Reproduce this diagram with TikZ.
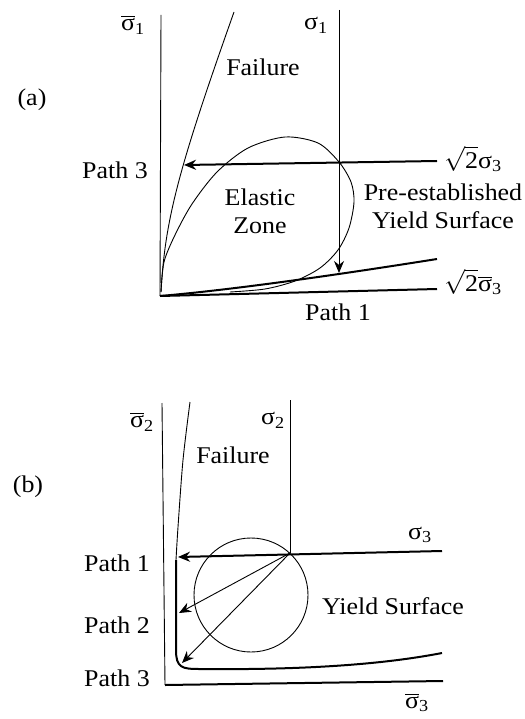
\documentclass[tikz,border=0pt]{standalone}
\usepackage{fontspec}
\setmainfont{Liberation Serif}[FakeStretch=1.08]
\usetikzlibrary{arrows.meta}

\newcommand\sgm[1]{σ\textsubscript{#1}}
\newcommand\sgmbar[1]{$\overline{\hbox{σ}}$\textsubscript{#1}}
\newcommand\rtwo{$\sqrt{\hbox{2}}$}

\begin{document}
\begin{tikzpicture}[
  x=1pt, y=-1pt,
  font=\fontsize{24}{28}\selectfont,
  >={Stealth[length=12pt,width=10pt]},
  txt/.style={inner sep=0pt, align=center},
  fine/.style={line width=0.9pt},
  heavy/.style={line width=2pt},
  patharrow/.style={->, line width=0.9pt},
  heavyarrow/.style={->, line width=2pt}
]
\useasboundingbox (0,0) rectangle (524,719);

% ---------- (a) ----------
\coordinate (oa) at (160,296);
\coordinate (axtopa) at (161,15);
\coordinate (axenda) at (437,289);
\coordinate (sa) at (339,162);
\coordinate (sigtopa) at (339,10);
\coordinate (s3enda) at (437,161);
\coordinate (tip3a) at (184,165);
\coordinate (tip1a) at (339,273);
\coordinate (boundenda) at (437,259);

\node[txt] (sb1) at (133,25) {\sgmbar{1}};
\node[txt] (s1) at (316,25) {\sgm{1}};
\node[txt] (faila) at (263,67) {Failure};
\node[txt] (capa) at (32,100) {(a)};
\node[txt] (s3a) at (473,159) {\rtwo\sgm{3}};
\node[txt] (path3a) at (115,170) {Path 3};
\node[txt] (elastic) at (260,211) {Elastic\\Zone};
\node[txt] (pre) at (443,206) {Pre-established\\Yield Surface};
\node[txt] (sb3a) at (473,282) {\rtwo\sgmbar{3}};
\node[txt] (path1a) at (338,312) {Path 1};

\draw[fine] (axtopa) -- (oa);
\draw[heavy] (oa) -- (axenda);
\draw[fine] (161,292) .. controls (165,220) and (178,170) .. (234,12);
\draw[heavy] (oa) .. controls (230,290) and (330,276) .. (boundenda);
\draw[fine] plot[smooth] coordinates {(161,292) (164,262) (175,235) (192,204) (217,172) (248,148)
  (285,137) (318,143) (339,162) (351,182) (354,202) (349,228) (338,250) (320,268) (295,281)
  (265,289) (230,292)};
\draw[heavyarrow] (s3enda) -- (tip3a);
\draw[fine] (sigtopa) -- (sa);
\draw[patharrow] (sa) -- (tip1a);

% ---------- (b) ----------
\coordinate (ob) at (165,685);
\coordinate (axtopb) at (162,403);
\coordinate (axendb) at (443,681);
\coordinate (sb) at (290,553);
\coordinate (sigtopb) at (290,400);
\coordinate (s3endb) at (442,551);
\coordinate (tip1b) at (178,557);
\coordinate (tip2b) at (179,613);
\coordinate (tip3b) at (182,663);

\node[txt] (sb2) at (142,422) {\sgmbar{2}};
\node[txt] (s2) at (273,420) {\sgm{2}};
\node[txt] (failb) at (233,455) {Failure};
\node[txt] (capb) at (28,487) {(b)};
\node[txt] (s3b) at (420,535) {\sgm{3}};
\node[txt] (path1b) at (117,563) {Path 1};
\node[txt] (yield) at (393,606) {Yield Surface};
\node[txt] (path2b) at (117,625) {Path 2};
\node[txt] (path3b) at (117,678) {Path 3};
\node[txt] (sb3b) at (417,703) {\sgmbar{3}};

\draw[fine] (axtopb) -- (ob);
\draw[heavy] (ob) -- (axendb);
\draw[fine] (sigtopb) -- (sb);
\draw[fine] plot[smooth] coordinates {(190,402) (183,460) (178,527) (176,560)};
\draw[heavy] (176,560) -- (176,650) .. controls (176,668) and (182,669) .. (200,669)
  .. controls (300,670) and (380,665) .. (442,653);
\draw[fine] (251,595) circle (57);
\draw[heavyarrow] (s3endb) -- (tip1b);
\draw[patharrow] (sb) -- (tip2b);
\draw[patharrow] (sb) -- (tip3b);

\end{tikzpicture}
\end{document}
